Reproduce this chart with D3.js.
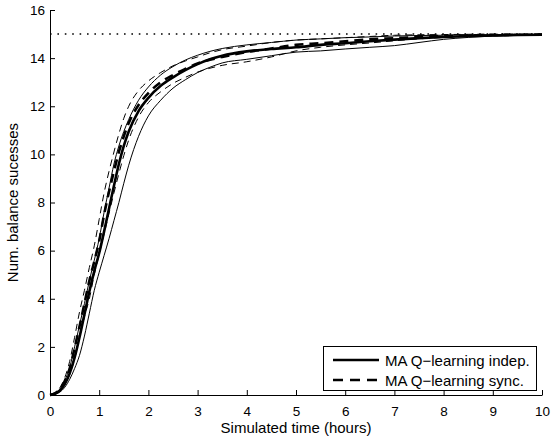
<!DOCTYPE html>
<html>
<head>
<meta charset="utf-8">
<script src="https://cdn.jsdelivr.net/npm/d3@7/dist/d3.min.js"></script>
<style>
  html, body { margin: 0; padding: 0; background: #fff; }
  svg { display: block; font-family: "Liberation Sans", Arial, Helvetica, sans-serif; }
</style>
</head>
<body>
<svg id="chart" width="552" height="440"></svg>
<script>
// Simulated time (hours) at which the curves were sampled
const hours = [0, 0.1, 0.2, 0.3, 0.4, 0.5, 0.6, 0.7, 0.8, 0.9, 1.0, 1.1, 1.2, 1.3, 1.4, 1.5, 1.6, 1.8, 2.0,
  2.25, 2.5, 2.75, 3.0, 3.25, 3.5, 4.0, 4.5, 5.0, 5.5, 6.0, 6.5, 7.0, 7.5, 8.0, 8.5, 9.0, 9.5, 10.0];

// Independent multi-agent Q-learning: mean and band
const indepMean = [0, 0.05, 0.18, 0.45, 0.9, 1.55, 2.4, 3.35, 4.3, 5.15, 5.9, 6.8, 7.75, 8.7, 9.6, 10.35, 10.95, 11.8, 12.35,
  12.85, 13.2, 13.5, 13.75, 13.95, 14.1, 14.28, 14.38, 14.45, 14.55, 14.62, 14.7, 14.77, 14.83, 14.88, 14.92, 14.94, 14.96, 14.97];
const indepUpper = [0, 0.07, 0.25, 0.6, 1.15, 2.0, 2.9, 3.8, 4.75, 5.6, 6.5, 7.6, 8.6, 9.6, 10.35, 10.95, 11.45, 12.25, 12.8,
  13.3, 13.65, 13.92, 14.12, 14.28, 14.4, 14.55, 14.65, 14.75, 14.8, 14.85, 14.88, 14.92, 14.94, 14.95, 14.97, 14.97, 14.98, 14.98];
const indepLower = [0, 0.03, 0.12, 0.32, 0.65, 1.1, 1.65, 2.45, 3.4, 4.35, 5.1, 5.8, 6.5, 7.25, 8.0, 8.8, 9.55, 10.75, 11.6,
  12.25, 12.75, 13.1, 13.4, 13.62, 13.8, 13.95, 14.1, 14.25, 14.3, 14.38, 14.45, 14.52, 14.65, 14.78, 14.86, 14.92, 14.95, 14.96];

// Synchronised multi-agent Q-learning: mean and band
const syncMean = [0, 0.07, 0.24, 0.58, 1.1, 1.95, 2.85, 3.8, 4.75, 5.55, 6.4, 7.5, 8.45, 9.3, 10.1, 10.75, 11.3, 12.05, 12.55,
  13.0, 13.3, 13.55, 13.78, 13.93, 14.05, 14.25, 14.4, 14.55, 14.62, 14.7, 14.78, 14.83, 14.88, 14.92, 14.94, 14.96, 14.97, 14.98];
const syncUpper = [0, 0.09, 0.3, 0.72, 1.4, 2.4, 3.45, 4.35, 5.3, 6.2, 7.3, 8.4, 9.3, 10.1, 10.85, 11.5, 12.0, 12.65, 13.05,
  13.4, 13.68, 13.88, 14.05, 14.22, 14.35, 14.5, 14.65, 14.75, 14.8, 14.85, 14.9, 14.95, 14.97, 14.98, 14.99, 15.0, 15.0, 15.0];
const syncLower = [0, 0.05, 0.18, 0.45, 0.85, 1.5, 2.4, 3.25, 4.0, 5.0, 5.85, 6.7, 7.55, 8.4, 9.2, 9.95, 10.6, 11.55, 12.15,
  12.6, 12.95, 13.2, 13.42, 13.58, 13.7, 13.85, 14.05, 14.3, 14.45, 14.55, 14.63, 14.72, 14.8, 14.86, 14.9, 14.93, 14.95, 14.96];

// Maximum number of balance successes
const maxSuccess = 15;

const xTicks = [0, 1, 2, 3, 4, 5, 6, 7, 8, 9, 10];
const yTicks = [0, 2, 4, 6, 8, 10, 12, 14, 16];

const legendLabels = ["MA Q\u2212learning indep.", "MA Q\u2212learning sync."];

const margin = { left: 50, right: 10, top: 10, bottom: 45 };
const W = 552, H = 440;
const svg = d3.select("#chart");

const x = d3.scaleLinear().domain([0, 10]).range([margin.left, W - margin.right]);
const y = d3.scaleLinear().domain([0, 16]).range([H - margin.bottom, margin.top]);

const line = d3.line()
  .x((d, i) => x(hours[i]))
  .y(d => y(d))
  .curve(d3.curveMonotoneX);

const plot = svg.append("g");

// Ceiling reference line
plot.append("line")
  .attr("x1", x(0)).attr("x2", x(10))
  .attr("y1", y(maxSuccess)).attr("y2", y(maxSuccess))
  .attr("stroke", "#000").attr("stroke-width", 1.6)
  .attr("stroke-dasharray", "1.6,5.8");

const series = [
  { values: indepUpper, width: 1, dash: null },
  { values: indepLower, width: 1, dash: null },
  { values: syncUpper, width: 1, dash: "7,5" },
  { values: syncLower, width: 1, dash: "7,5" },
  { values: indepMean, width: 2.6, dash: null },
  { values: syncMean, width: 2.6, dash: "9,6" }
];

series.forEach(s => {
  plot.append("path")
    .attr("d", line(s.values))
    .attr("fill", "none")
    .attr("stroke", "#000")
    .attr("stroke-width", s.width)
    .attr("stroke-linejoin", "round")
    .attr("stroke-dasharray", s.dash);
});

// Axes with inward ticks
const xAxis = d3.axisBottom(x).tickValues(xTicks).tickSizeInner(-5).tickSizeOuter(0).tickPadding(11.5);
const yAxis = d3.axisLeft(y).tickValues(yTicks).tickSizeInner(-5).tickSizeOuter(0).tickPadding(5);

const gx = svg.append("g").attr("transform", `translate(0,${y(0)})`).call(xAxis);
const gy = svg.append("g").attr("transform", `translate(${x(0)},0)`).call(yAxis);

[gx, gy].forEach(g => {
  g.select(".domain").attr("stroke", "#000").attr("stroke-width", 1);
  g.selectAll(".tick line").attr("stroke", "#000").attr("stroke-width", 1);
  g.selectAll(".tick text").attr("fill", "#000").style("font-size", "13.5px")
    .style("font-family", "'Liberation Sans', Arial, sans-serif");
});

// Axis titles
svg.append("text")
  .attr("x", (x(0) + x(10)) / 2).attr("y", 433)
  .attr("text-anchor", "middle")
  .style("font-size", "15px")
  .text("Simulated time (hours)");

svg.append("text")
  .attr("transform", `translate(18,${(y(0) + y(16)) / 2}) rotate(-90)`)
  .attr("text-anchor", "middle")
  .style("font-size", "15px")
  .text("Num. balance sucesses");

// Legend
const lg = svg.append("g");
lg.append("rect")
  .attr("x", 323.5).attr("y", 346.5).attr("width", 213).attr("height", 44)
  .attr("fill", "#fff").attr("stroke", "#000").attr("stroke-width", 1);

const legendStyles = [{ dash: null }, { dash: "10,7" }];
legendLabels.forEach((lab, i) => {
  const yy = 360 + i * 20;
  lg.append("line")
    .attr("x1", 333).attr("x2", 379)
    .attr("y1", yy).attr("y2", yy)
    .attr("stroke", "#000").attr("stroke-width", 2.6)
    .attr("stroke-dasharray", legendStyles[i].dash);
  lg.append("text")
    .attr("x", 385).attr("y", yy + 5.5)
    .style("font-size", "15px")
    .text(lab);
});
</script>
</body>
</html>
